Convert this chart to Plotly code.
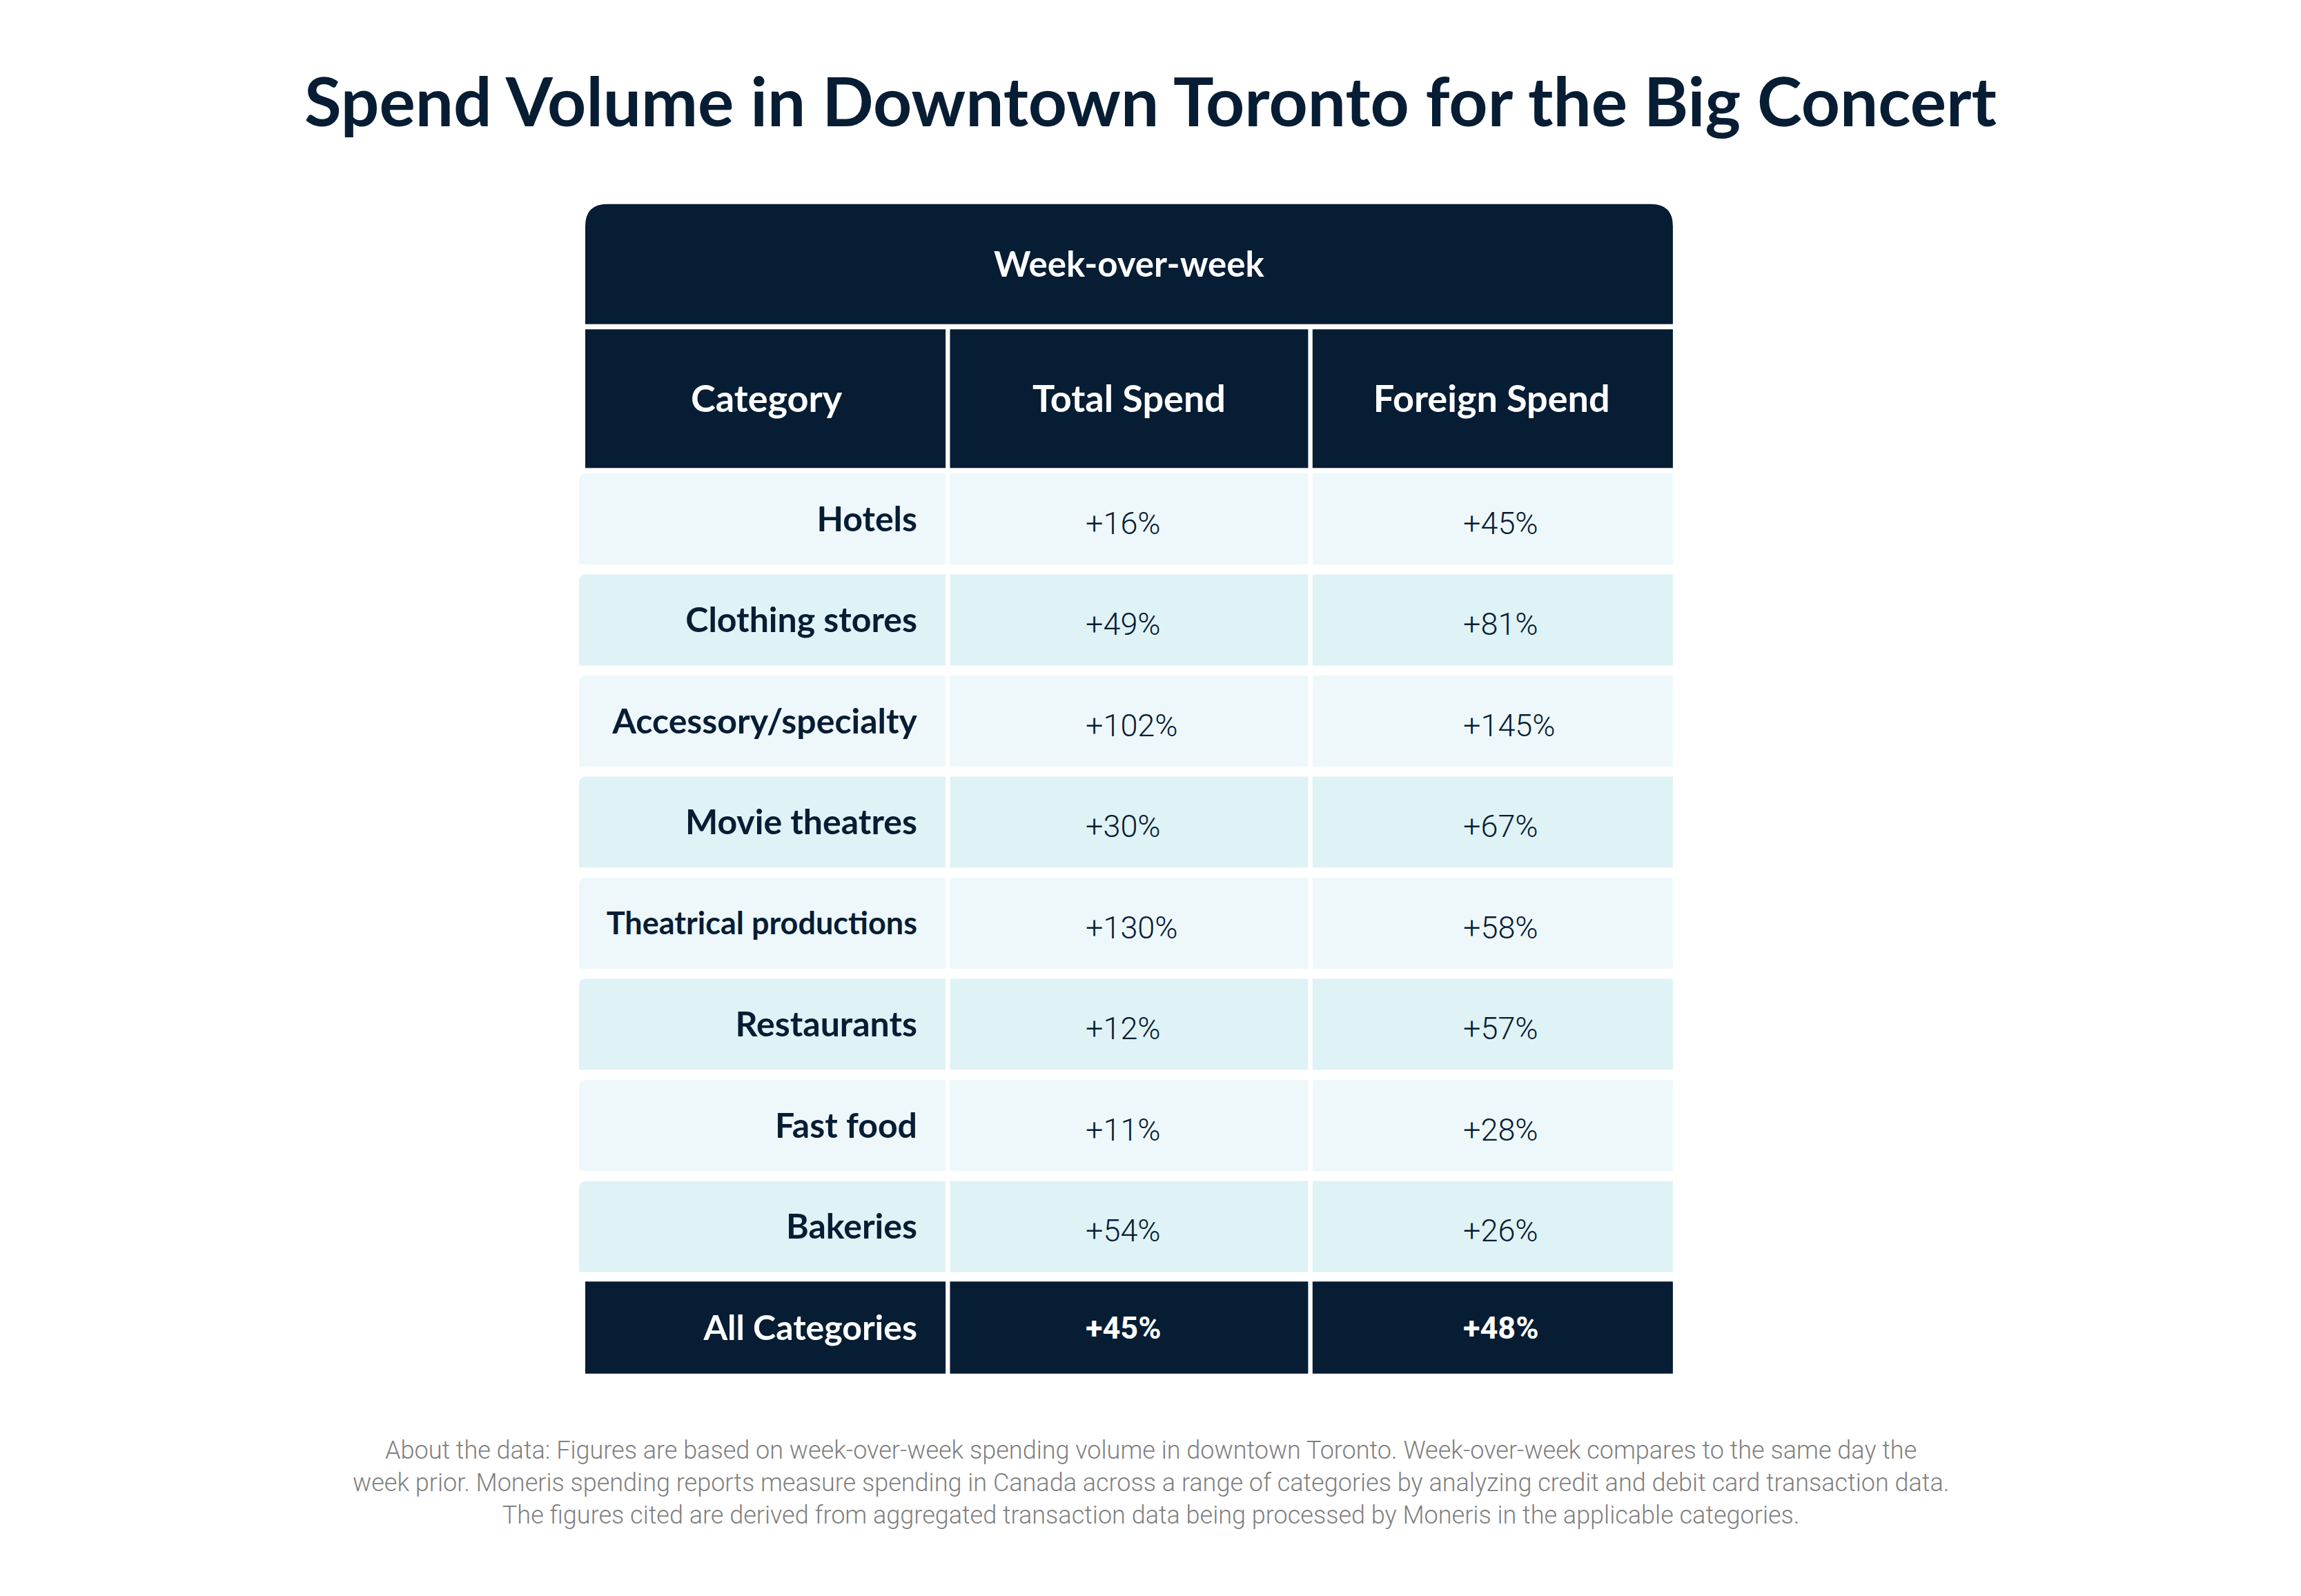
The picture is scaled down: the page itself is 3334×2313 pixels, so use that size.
import plotly.graph_objects as go

# ---------------- data ----------------
title_text = "Spend Volume in Downtown Toronto for the Big Concert"
group_header = "Week-over-week"
col_headers = ["Category", "Total Spend", "Foreign Spend"]
categories = ["Hotels", "Clothing stores", "Accessory/specialty", "Movie theatres",
              "Theatrical productions", "Restaurants", "Fast food", "Bakeries"]
total_spend = [16, 49, 102, 30, 130, 12, 11, 54]
foreign_spend = [45, 81, 145, 67, 58, 57, 28, 26]
summary_label = "All Categories"
summary_total = 45
summary_foreign = 48
footer_lines = [
    "About the data: Figures are based on week-over-week spending volume in downtown Toronto. Week-over-week compares to the same day the",
    "week prior. Moneris spending reports measure spending in Canada across a range of categories by analyzing credit and debit card transaction data.",
    "The figures cited are derived from aggregated transaction data being processed by Moneris in the applicable categories.",
]

# ---------------- styles ----------------
PAGE_OFF = 8                      # default body margin of the html page
W, H = 3334 - 2 * PAGE_OFF, 2313 - 2 * PAGE_OFF
NAVY = "#071D34"
ROW_A = "#EEF8FB"
ROW_B = "#DFF2F6"
HEAD_FONT = "Lato"
VAL_FONT = "Roboto"

# axis scaling: 1 x-unit = one column, 1 y-unit = one row pitch
XU = 525.3
YU = 146.5
X0PX = 848 - PAGE_OFF
Y0PX = 752 - PAGE_OFF
x_range = [-X0PX / XU, (W - X0PX) / XU]
y_range = [(H - Y0PX) / YU, -Y0PX / YU]

gx = 3.2 / XU
half_row = 0.45
LBL_DY = 0.035   # vertical nudge of bold labels
VAL_DY = 0.07    # vertical nudge of light values
HDR_DY = 0.04

fig = go.Figure()
shapes = []

def rect(x0, x1, y0, y1, color):
    shapes.append(dict(type="rect", xref="x", yref="y", x0=x0, x1=x1, y0=y0, y1=y1,
                       fillcolor=color, line=dict(width=0), layer="below"))

# top group header with rounded top corners
top_c, top_h = -2.52, 0.594
rx, ry = 32 / XU, 32 / YU
yt, yb = top_c - top_h, top_c + top_h
path = (f"M 0,{yb} L 0,{yt+ry} Q 0,{yt} {rx},{yt} L {3-rx},{yt} "
        f"Q 3,{yt} 3,{yt+ry} L 3,{yb} Z")
shapes.append(dict(type="path", xref="x", yref="y", path=path, fillcolor=NAVY,
                   line=dict(width=0), layer="below"))

# column header cells
hdr_c, hdr_h = -1.19, 0.686
for c in range(len(col_headers)):
    rect(c + (0 if c == 0 else gx), c + 1 - (0 if c == 2 else gx), hdr_c - hdr_h, hdr_c + hdr_h, NAVY)

# data rows (first column slightly wider to the left, with a small rounded corner)
n = len(categories)
r2x, r2y = 10 / XU, 10 / YU
for k in range(n):
    color = ROW_A if k % 2 == 0 else ROW_B
    for c in range(3):
        right = c + 1 - gx if c < 2 else 3
        y0, y1 = k - half_row, k + half_row
        if c == 0:
            left = -9 / XU
            p = (f"M {left},{y1} L {left},{y0+r2y} Q {left},{y0} {left+r2x},{y0} "
                 f"L {right},{y0} L {right},{y1} Z")
            shapes.append(dict(type="path", xref="x", yref="y", path=p, fillcolor=color,
                               line=dict(width=0), layer="below"))
        else:
            rect(c + gx, right, y0, y1, color)

# summary row
for c in range(3):
    left = c + gx if c > 0 else 0
    right = c + 1 - gx if c < 2 else 3
    rect(left, right, n - 0.455, n + 0.455, NAVY)

# ---------------- text ----------------
fig.add_trace(go.Scatter(x=[1.5], y=[top_c + HDR_DY], mode="text", text=[group_header],
                         textfont=dict(family=HEAD_FONT, size=51, color="white", weight="bold"),
                         hoverinfo="skip"))
fig.add_trace(go.Scatter(x=[c + 0.5 for c in range(3)], y=[hdr_c + HDR_DY] * 3, mode="text",
                         text=col_headers,
                         textfont=dict(family=HEAD_FONT, size=54, color="white", weight="bold"),
                         hoverinfo="skip"))

label_x = (1329 - 848) / XU
total_x = (1573 - 848) / XU
foreign_x = (2120 - 848) / XU
rows = list(range(n))
cat_sizes = [45 if len(s) > 20 else 50 for s in categories]
fig.add_trace(go.Scatter(x=[label_x] * n, y=[r + LBL_DY for r in rows], mode="text", text=categories,
                         textposition="middle left",
                         textfont=dict(family=HEAD_FONT, size=cat_sizes, color=NAVY, weight="bold"),
                         hoverinfo="skip"))
fig.add_trace(go.Scatter(x=[total_x] * n, y=[r + VAL_DY for r in rows], mode="text",
                         text=[f"+{v}%" for v in total_spend], textposition="middle right",
                         textfont=dict(family=VAL_FONT, size=45, color=NAVY, weight=300),
                         hoverinfo="skip"))
fig.add_trace(go.Scatter(x=[foreign_x] * n, y=[r + VAL_DY for r in rows], mode="text",
                         text=[f"+{v}%" for v in foreign_spend], textposition="middle right",
                         textfont=dict(family=VAL_FONT, size=45, color=NAVY, weight=300),
                         hoverinfo="skip"))
fig.add_trace(go.Scatter(x=[label_x], y=[n + LBL_DY], mode="text", text=[summary_label],
                         textposition="middle left",
                         textfont=dict(family=HEAD_FONT, size=50, color="white", weight="bold"),
                         hoverinfo="skip"))
fig.add_trace(go.Scatter(x=[total_x, foreign_x], y=[n + LBL_DY, n + LBL_DY], mode="text",
                         text=[f"+{summary_total}%", f"+{summary_foreign}%"],
                         textposition="middle right",
                         textfont=dict(family=VAL_FONT, size=45, color="white", weight="bold"),
                         hoverinfo="skip"))

fig.update_layout(
    width=W, height=H,
    margin=dict(l=0, r=0, t=0, b=0),
    paper_bgcolor="white", plot_bgcolor="white",
    showlegend=False,
    shapes=shapes,
    title=dict(text=title_text, x=(1667 - PAGE_OFF) / W, xanchor="center",
               y=1 - (149 - PAGE_OFF) / H, yanchor="middle",
               font=dict(family=HEAD_FONT, size=98, color=NAVY, weight="bold")),
    xaxis=dict(range=x_range, visible=False, fixedrange=True),
    yaxis=dict(range=y_range, visible=False, fixedrange=True),
    annotations=[dict(text="<br>".join(footer_lines), xref="paper", yref="paper",
                      x=(1667 - PAGE_OFF) / W, y=1 - (2149 - PAGE_OFF) / H,
                      xanchor="center", yanchor="middle",
                      showarrow=False, align="center",
                      font=dict(family=VAL_FONT, size=36, color="#7F7F7F", weight=300))],
)

fig.write_html("out.html")
